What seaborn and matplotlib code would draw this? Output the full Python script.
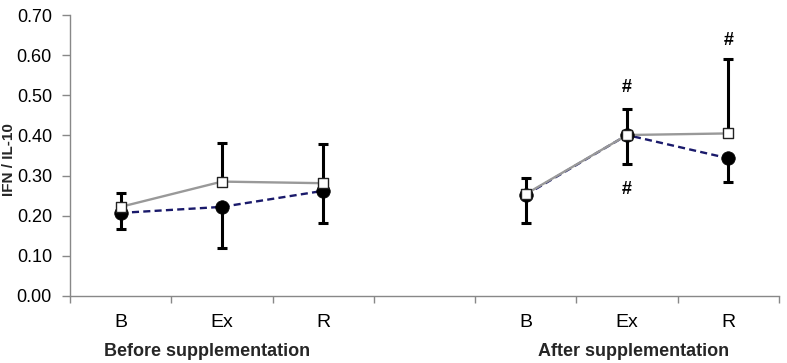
import numpy as np
import pandas as pd
import seaborn as sns
import matplotlib.pyplot as plt
from matplotlib.ticker import FixedLocator, FormatStrFormatter

# values
timepoints = ["B", "Ex", "R"]
phases = ["Before supplementation", "After supplementation"]

open_before = [0.222, 0.285, 0.281]
open_after = [0.254, 0.401, 0.405]
open_err_before = [0.035, 0.096, 0.098]
open_err_after = [0.040, 0.065, 0.185]

filled_before = [0.207, 0.222, 0.262]
filled_after = [0.252, 0.401, 0.343]
filled_err_before = [0.039, 0.102, 0.079]
filled_err_after = [0.070, 0.072, 0.058]

hash_phase = ["After supplementation", "After supplementation", "After supplementation"]
hash_time = ["Ex", "Ex", "R"]
hash_y = [0.52, 0.265, 0.636]

sns.set_theme(style="white")
plt.rcParams['font.family'] = ['Liberation Sans', 'DejaVu Sans']

rows = []
for p, phase in enumerate(phases):
    o_vals = [open_before, open_after][p]
    o_err = [open_err_before, open_err_after][p]
    f_vals = [filled_before, filled_after][p]
    f_err = [filled_err_before, filled_err_after][p]
    for t, tp in enumerate(timepoints):
        pos = p * 4 + t
        rows.append(dict(phase=phase, timepoint=tp, pos=pos, series="open",
                         value=o_vals[t], lo=0.0, hi=o_err[t]))
        rows.append(dict(phase=phase, timepoint=tp, pos=pos, series="filled",
                         value=f_vals[t], lo=f_err[t], hi=0.0))
df = pd.DataFrame(rows)

fig = plt.figure(figsize=(7.87, 3.63), dpi=100)
ax = fig.add_axes([70 / 787, 1 - 296 / 363, 709 / 787, 281 / 363])

for phase in phases:
    fsub = df[(df.phase == phase) & (df.series == "filled")]
    osub = df[(df.phase == phase) & (df.series == "open")]
    sns.lineplot(data=fsub, x="pos", y="value", ax=ax, color="#1a1a6b",
                 linestyle=(0, (3, 1.8)), linewidth=1.7, zorder=2)
    sns.lineplot(data=osub, x="pos", y="value", ax=ax, color="#999999",
                 linewidth=1.7, zorder=2.5)
    for sub in (osub, fsub):
        ax.errorbar(sub.pos, sub.value, yerr=[sub.lo, sub.hi], fmt="none",
                    ecolor="black", elinewidth=2.2, capsize=3.5, capthick=2.2,
                    zorder=3)

fdf = df[df.series == "filled"]
odf = df[df.series == "open"]
sns.scatterplot(data=fdf, x="pos", y="value", ax=ax, color="black",
                marker="o", s=95, edgecolor="black", linewidth=0.5, zorder=4)
sns.scatterplot(data=odf, x="pos", y="value", ax=ax, color="white",
                marker="s", s=45, edgecolor="#222222", linewidth=1.0, zorder=5)

# significance marks
for ph, tp, y in zip(hash_phase, hash_time, hash_y):
    x = phases.index(ph) * 4 + timepoints.index(tp)
    ax.text(x, y, "#", ha="center", va="center", fontsize=13,
            fontweight="bold", color="black")

ax.set_xlim(-0.5, 6.5)
ax.set_ylim(0, 0.7)
ax.set_yticks(np.arange(0, 0.71, 0.1))
ax.yaxis.set_major_formatter(FormatStrFormatter("%.2f"))
ax.set_xticks([p * 4 + t for p in range(len(phases)) for t in range(len(timepoints))])
ax.set_xticklabels(timepoints * len(phases))
ax.xaxis.set_minor_locator(FixedLocator(np.arange(-0.5, 7.0, 1.0)))
ax.tick_params(axis="x", which="major", length=0, pad=13, labelsize=14,
               labelcolor="black")
ax.tick_params(axis="x", which="minor", length=5, width=1, color="#888888",
               direction="out", bottom=True)
ax.tick_params(axis="y", length=6, width=1, color="#888888", direction="out",
               left=True, pad=7, labelsize=13, labelcolor="black")
ax.set_xlabel("")
ax.set_ylabel("")
sns.despine(ax=ax)
for s in ("left", "bottom"):
    ax.spines[s].set_color("#888888")
    ax.spines[s].set_linewidth(1.0)

for p, phase in enumerate(phases):
    cx = [207, 634][p]
    fig.text(cx / 787, 1 - 352 / 363, phase, ha="center", va="center",
             fontsize=13, fontweight="bold")

fig.text(9 / 787, 1 - 160 / 363, "IFN / IL-10", rotation=90, ha="center",
         va="center", fontsize=11, fontweight="bold")

fig.savefig("out.png", dpi=100)
